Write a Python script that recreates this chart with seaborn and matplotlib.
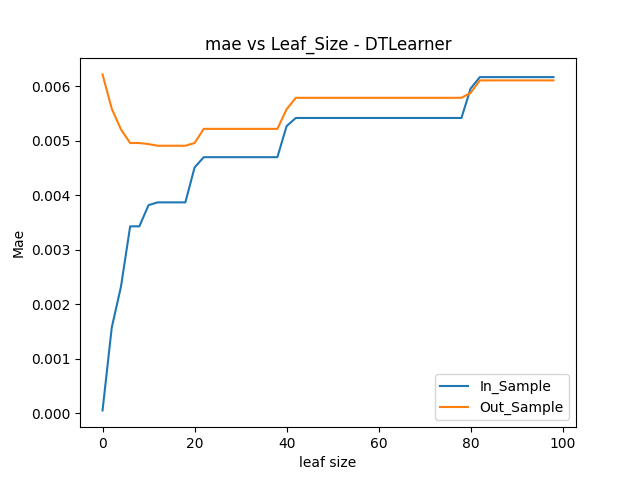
import pandas as pd
import seaborn as sns
import matplotlib
matplotlib.use("Agg")
import matplotlib.pyplot as plt

# leaf sizes 0..98 step 2
leaf_size = list(range(0, 100, 2))

in_sample = [0.00005, 0.00157, 0.00232, 0.00343, 0.00343, 0.00382, 0.00387, 0.00387, 0.00387, 0.00387,
             0.00451, 0.00470, 0.00470, 0.00470, 0.00470, 0.00470, 0.00470, 0.00470, 0.00470, 0.00470,
             0.00527, 0.00542, 0.00542, 0.00542, 0.00542, 0.00542, 0.00542, 0.00542, 0.00542, 0.00542,
             0.00542, 0.00542, 0.00542, 0.00542, 0.00542, 0.00542, 0.00542, 0.00542, 0.00542, 0.00542,
             0.00596, 0.00617, 0.00617, 0.00617, 0.00617, 0.00617, 0.00617, 0.00617, 0.00617, 0.00617]

out_sample = [0.00622, 0.00559, 0.00521, 0.00496, 0.00496, 0.00494, 0.00491, 0.00491, 0.00491, 0.00491,
              0.00496, 0.00522, 0.00522, 0.00522, 0.00522, 0.00522, 0.00522, 0.00522, 0.00522, 0.00522,
              0.00558, 0.00579, 0.00579, 0.00579, 0.00579, 0.00579, 0.00579, 0.00579, 0.00579, 0.00579,
              0.00579, 0.00579, 0.00579, 0.00579, 0.00579, 0.00579, 0.00579, 0.00579, 0.00579, 0.00579,
              0.00588, 0.00611, 0.00611, 0.00611, 0.00611, 0.00611, 0.00611, 0.00611, 0.00611, 0.00611]

df = pd.DataFrame({"leaf size": leaf_size, "In_Sample": in_sample, "Out_Sample": out_sample})
df = df.melt(id_vars="leaf size", var_name="sample", value_name="Mae")

fig, ax = plt.subplots(figsize=(6.4, 4.8), dpi=100)
sns.lineplot(data=df, x="leaf size", y="Mae", hue="sample", ax=ax)
ax.set_title("mae vs Leaf_Size - DTLearner")
ax.set_xlabel("leaf size")
ax.set_ylabel("Mae")
ax.legend(loc="lower right")
plt.savefig("out.png")
